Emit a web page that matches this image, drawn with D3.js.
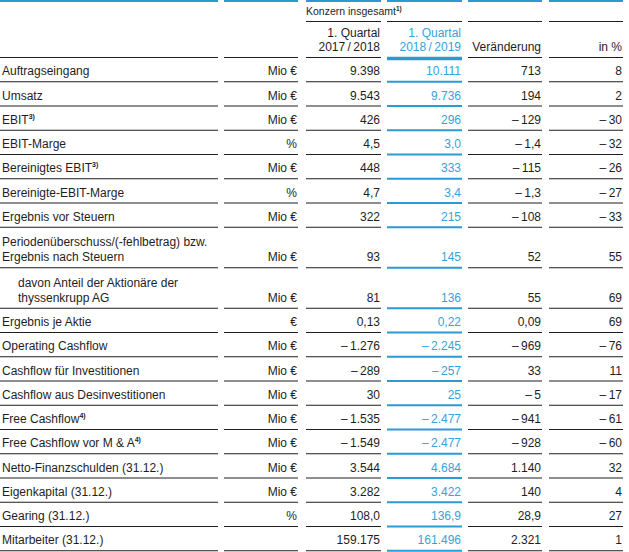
<!DOCTYPE html>
<html><head><meta charset="utf-8">
<script src="https://cdn.jsdelivr.net/npm/d3@7"></script>
<style>
html,body{margin:0;padding:0;background:#fff;}
svg{display:block;}
text{font-family:"Liberation Sans",Arial,sans-serif;}
</style></head>
<body>
<svg id="chart" width="629" height="552"></svg>
<script>
// ---- data ----
const labels = [
  ["Auftragseingang"], ["Umsatz"], ["EBIT"], ["EBIT-Marge"], ["Bereinigtes EBIT"],
  ["Bereinigte-EBIT-Marge"], ["Ergebnis vor Steuern"],
  ["Periodenüberschuss/(-fehlbetrag) bzw.", "Ergebnis nach Steuern"],
  ["davon Anteil der Aktionäre der", "thyssenkrupp AG"],
  ["Ergebnis je Aktie"], ["Operating Cashflow"], ["Cashflow für Investitionen"],
  ["Cashflow aus Desinvestitionen"], ["Free Cashflow"], ["Free Cashflow vor M & A"],
  ["Netto-Finanzschulden (31.12.)"], ["Eigenkapital (31.12.)"], ["Gearing (31.12.)"],
  ["Mitarbeiter (31.12.)"]
];
const footnotes = ["", "", "3)", "", "3)", "", "", "", "", "", "", "", "", "4)", "4)", "", "", "", ""];
const indented = [false,false,false,false,false,false,false,false,true,false,false,false,false,false,false,false,false,false,false];
const units = ["Mio €","Mio €","Mio €","%","Mio €","%","Mio €","Mio €","Mio €","€","Mio €","Mio €","Mio €","Mio €","Mio €","Mio €","Mio €","%",""];
const q1_2017_2018 = [9398, 9543, 426, 4.5, 448, 4.7, 322, 93, 81, 0.13, -1276, -289, 30, -1535, -1549, 3544, 3282, 108.0, 159175];
const q1_2018_2019 = [10111, 9736, 296, 3.0, 333, 3.4, 215, 145, 136, 0.22, -2245, -257, 25, -2477, -2477, 4684, 3422, 136.9, 161496];
const veraenderung = [713, 194, -129, -1.4, -115, -1.3, -108, 52, 55, 0.09, -969, 33, -5, -941, -928, 1140, 140, 28.9, 2321];
const inProzent = [8, 2, -30, -32, -26, -27, -33, 55, 69, 69, -76, 11, -17, -61, -60, 32, 4, 27, 1];
const decimals = [0,0,0,1,0,1,0,0,0,2,0,0,0,0,0,0,0,1,0];
const headerTitle = "Konzern insgesamt";
const headerFootnote = "1)";
const colHeaders = [["1. Quartal","2017\u2009/\u20092018"],["1. Quartal","2018\u2009/\u20092019"],["","Veränderung"],["","in %"]];

// ---- setup ----
const svg = d3.select("#chart");
const BLACK = "#1e1e1e", BLUE = "#35a2da", LINEBLUE = "#2b9ad3", LINE = "#1e1e1e";
const de = d3.formatLocale({decimal: ",", thousands: ".", grouping: [3], currency: ["", "€"]});
function fmt(v, d) {
  const s = de.format(",." + d + "f")(Math.abs(v));
  return v < 0 ? "\u2013\u2009" + s : s;
}

// columns: [left, right]
const colNames = ["label","unit","c1","c2","c3","c4"];
const colLeft = d3.scaleOrdinal().domain(colNames).range([0, 224, 306, 387, 468, 549]);
const colRight = d3.scaleOrdinal().domain(colNames).range([218, 298, 381, 462, 542, 623]);

// rows: vertical layout
const headerBottom = 57;
const rowH = labels.map(l => l.length > 1 ? 40.5 : 24.25);
const bottoms = [];
let acc = headerBottom;
rowH.forEach(h => { acc += h; bottoms.push(acc); });
const yRow = d3.scaleOrdinal().domain(d3.range(labels.length)).range(bottoms);

// ---- header ----
colNames.forEach(c => {
  svg.append("line").attr("x1", colLeft(c)).attr("x2", colRight(c))
    .attr("y1", 1).attr("y2", 1).attr("stroke", LINEBLUE).attr("stroke-width", 2);
});
const ht = svg.append("text").attr("x", colLeft("c1")).attr("y", 15)
  .attr("font-size", 10.5).attr("fill", BLACK).text(headerTitle);
ht.append("tspan").attr("font-size", 6.5).attr("dy", -4).attr("font-weight", "bold").text(headerFootnote);
["c1","c2","c3","c4"].forEach(c => {
  svg.append("line").attr("x1", colLeft(c)).attr("x2", colRight(c))
    .attr("y1", 21.5).attr("y2", 21.5).attr("stroke", LINE).attr("stroke-width", 1.2);
});
["c1","c2","c3","c4"].forEach((c, i) => {
  const col = i === 1 ? BLUE : BLACK;
  colHeaders[i].forEach((t, j) => {
    if (!t) return;
    svg.append("text").attr("x", colRight(c) - 1).attr("y", j === 0 ? 37 : 51)
      .attr("text-anchor", "end").attr("font-size", 12).attr("fill", col).text(t);
  });
});
colNames.forEach(c => {
  const blue = c === "c2";
  svg.append("line").attr("x1", colLeft(c)).attr("x2", colRight(c))
    .attr("y1", blue ? 58.5 : headerBottom + 0.5).attr("y2", blue ? 58.5 : headerBottom + 0.5)
    .attr("stroke", blue ? LINEBLUE : LINE).attr("stroke-width", blue ? 3.5 : 1.2);
});

// ---- rows ----
const rows = svg.append("g").selectAll("g").data(d3.range(labels.length)).join("g");

rows.each(function(i) {
  const g = d3.select(this);
  const yb = yRow(i);
  const base = yb - 6;
  const lab = labels[i];
  lab.forEach((t, j) => {
    const tx = g.append("text").attr("x", indented[i] ? 18 : 2)
      .attr("y", base - (lab.length - 1 - j) * 15)
      .attr("font-size", 12).attr("fill", BLACK).text(t);
    if (j === lab.length - 1 && footnotes[i]) {
      tx.append("tspan").attr("font-size", 7).attr("dy", -5).attr("font-weight", "bold").text(footnotes[i]);
    }
  });
  g.append("text").attr("x", colRight("unit") - 1).attr("y", base)
    .attr("text-anchor", "end").attr("font-size", 12).attr("fill", BLACK).text(units[i]);
  const vals = [
    ["c1", fmt(q1_2017_2018[i], decimals[i]), BLACK],
    ["c2", fmt(q1_2018_2019[i], decimals[i]), BLUE],
    ["c3", fmt(veraenderung[i], decimals[i]), BLACK],
    ["c4", fmt(inProzent[i], 0), BLACK]
  ];
  vals.forEach(([c, t, col]) => {
    g.append("text").attr("x", colRight(c) - 1).attr("y", base)
      .attr("text-anchor", "end").attr("font-size", 12).attr("fill", col).text(t);
  });
  colNames.forEach(c => {
    const blue = c === "c2";
    g.append("line").attr("x1", colLeft(c)).attr("x2", colRight(c))
      .attr("y1", yb + 0.5).attr("y2", yb + 0.5)
      .attr("stroke", blue ? LINEBLUE : LINE).attr("stroke-width", blue ? 2 : 1.2);
  });
});
</script>
</body></html>
